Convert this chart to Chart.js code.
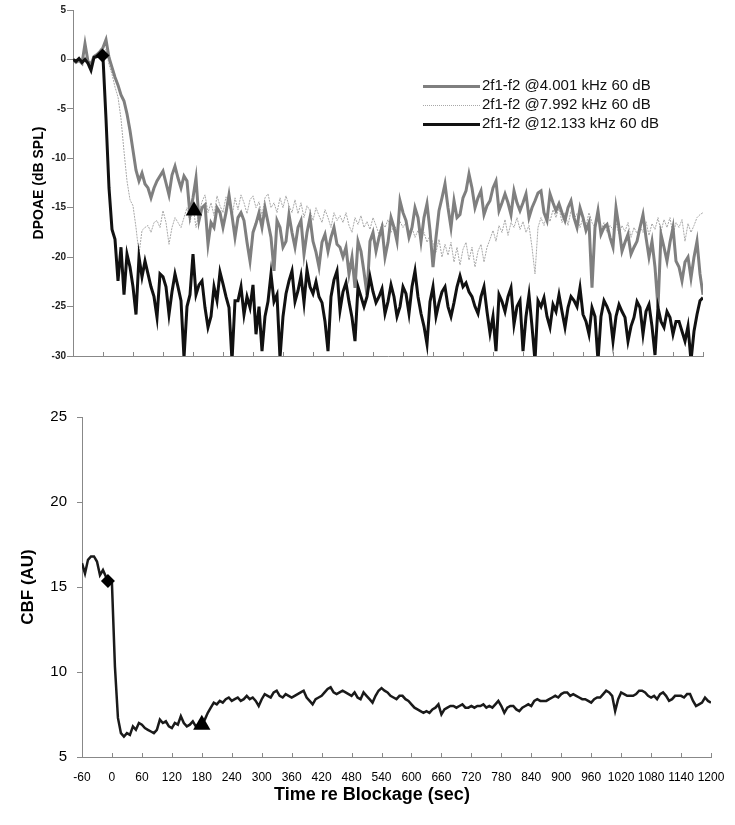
<!DOCTYPE html>
<html>
<head>
<meta charset="utf-8">
<script src="https://cdn.jsdelivr.net/npm/chart.js@4/dist/chart.umd.min.js"></script>
<style>
  body { margin: 0; background: #fff; width: 735px; height: 825px; position: relative; overflow: hidden; font-family: Arial, "Liberation Sans", sans-serif; }
  #dpChart { position: absolute; left: 0; top: 0; }
  #cbfChart { position: absolute; left: 0; top: 380px; }
  .legend { position: absolute; left: 423px; top: 75px; font-size: 15px; color: #111; }
  .legend div { height: 19px; line-height: 19px; white-space: nowrap; }
  .legend .sw { display: inline-block; width: 57px; vertical-align: middle; margin-right: 2px; }
</style>
</head>
<body>
<canvas id="dpChart" width="735" height="370"></canvas>
<canvas id="cbfChart" width="735" height="445"></canvas>
<div class="legend">
  <div><span class="sw" style="border-top:3px solid #7f7f7f"></span>2f1-f2 @4.001 kHz 60 dB</div>
  <div><span class="sw" style="border-top:1px dotted #a8a8a8"></span>2f1-f2 @7.992 kHz 60 dB</div>
  <div><span class="sw" style="border-top:3px solid #111"></span>2f1-f2 @12.133 kHz 60 dB</div>
</div>
<script>
// samples every 6 s from -60 s
const START = -60
const STEP = 6

// DPOAE 2f1-f2 @4.001 kHz (dB SPL)
const dp4k = [
    0.0, -0.3, -0.1, -0.4, 1.6, -0.2, -0.5, 0.3, 0.5, 0.8,
    1.2, 2.0, 0.2, -0.8, -1.8, -2.6, -3.6, -4.2, -5.5, -7.2,
    -9.2, -11.2, -12.3, -11.5, -12.6, -13.0, -14.0, -13.0, -12.3, -11.8,
    -11.3, -12.5, -13.7, -11.7, -10.8, -12.0, -13.0, -11.8, -12.3, -15.7,
    -14.0, -12.0, -16.3, -15.0, -14.7, -18.7, -16.5, -17.0, -15.0, -15.5,
    -17.0, -15.5, -13.7, -15.8, -18.0, -16.0, -15.5, -16.3, -18.5, -20.4,
    -17.5, -16.6, -15.5, -17.0, -15.0, -16.5, -18.0, -21.4, -16.3, -17.0,
    -19.0, -18.4, -15.7, -17.5, -19.0, -17.0, -16.3, -19.7, -17.5, -16.0,
    -18.4, -19.5, -21.0, -18.5, -17.7, -19.4, -18.0, -17.0, -18.7, -19.0,
    -20.0, -19.0, -21.7, -20.0, -23.1, -18.4, -19.4, -21.5, -23.8, -18.4,
    -17.5, -19.4, -18.0, -17.0, -20.0, -18.5, -16.0, -17.0, -18.4, -14.3,
    -15.5, -16.3, -18.0, -17.0, -15.0, -16.0, -18.4, -16.0, -14.6, -17.3,
    -21.0, -18.0, -15.3, -14.0, -12.6, -15.0, -17.0, -14.3, -16.0, -15.7,
    -14.0, -13.3, -11.6, -13.0, -15.0, -14.0, -13.3, -15.7, -14.8, -14.3,
    -13.0, -12.3, -15.3, -14.5, -13.6, -14.5, -15.7, -13.3, -14.5, -15.3,
    -14.5, -13.6, -16.0, -15.0, -14.3, -13.5, -13.3, -15.5, -16.3, -13.6,
    -14.5, -15.3, -14.6, -15.5, -16.3, -15.0, -14.3, -16.0, -17.0, -15.0,
    -16.0, -17.3, -16.5, -23.1, -17.0, -15.3, -17.7, -17.0, -16.7, -18.0,
    -19.0, -15.0, -17.0, -19.4, -18.5, -17.7, -19.7, -19.0, -18.4, -17.0,
    -15.7, -18.0, -20.0, -18.4, -21.0, -25.1, -17.7, -19.0, -20.4, -18.5,
    -17.0, -20.4, -21.0, -22.4, -20.5, -20.0, -22.1, -20.0, -18.4, -21.7,
    -23.8
]

// DPOAE 2f1-f2 @7.992 kHz (dB SPL)
const dp8k = [
    0.0, -0.2, 0.1, -0.2, 0.3, -0.1, -0.3, 0.2, 0.4, 0.5,
    0.8, 1.0, -0.5, -1.5, -2.8, -3.8, -6.0, -9.3, -12.3, -14.2,
    -14.8, -17.0, -19.7, -17.3, -17.0, -16.8, -17.5, -16.5, -16.3, -17.0,
    -15.3, -16.5, -18.7, -17.0, -16.0, -16.5, -17.0, -16.0, -15.0, -16.5,
    -14.8, -17.0, -15.5, -14.4, -13.7, -15.5, -14.5, -15.8, -13.8, -14.8,
    -15.5, -13.9, -14.6, -16.0, -14.0, -15.2, -13.7, -14.5, -15.6, -14.2,
    -13.8, -15.0, -14.4, -15.8, -14.0, -13.6, -15.0, -14.5, -15.5, -14.0,
    -15.0, -13.8, -14.8, -15.5, -14.2, -15.6, -14.5, -16.0, -14.8, -15.3,
    -16.3, -15.0, -15.8, -16.5, -15.2, -16.0, -17.0, -15.5, -16.3, -15.8,
    -16.5, -15.5, -16.8, -17.5, -16.0, -16.7, -15.8, -17.0, -16.4, -17.2,
    -16.0, -16.8, -17.7, -16.5, -17.0, -16.2, -17.5, -16.8, -17.2, -16.4,
    -17.0, -16.5, -17.7, -17.0, -18.0, -17.3, -18.2, -17.5, -18.5, -17.8,
    -18.6, -19.5, -18.2, -20.0, -18.7, -19.8, -18.5, -20.5, -19.0, -20.8,
    -19.2, -18.5, -20.3, -19.0, -21.0, -19.4, -18.7, -20.5, -19.0, -18.2,
    -17.3, -18.4, -16.8, -17.5, -16.2, -17.8, -16.5, -17.0, -16.0, -17.2,
    -16.4, -17.5, -16.8, -19.0, -21.7, -17.0, -16.0, -16.8, -15.5, -16.4,
    -15.2, -16.0, -15.0, -16.5, -15.5, -16.8, -15.3, -16.2, -15.6, -17.0,
    -16.0, -16.8, -15.5, -16.5, -17.0, -16.2, -17.3, -16.5, -17.5, -16.8,
    -17.2, -16.5, -17.7, -16.8, -17.4, -16.5, -18.0, -17.0, -17.6, -16.8,
    -17.5, -16.4, -17.8, -16.6, -17.2, -16.0, -17.4, -16.2, -17.0, -16.0,
    -17.8, -16.5, -17.0, -16.2, -18.4, -16.6, -17.5, -16.8, -16.0, -15.7,
    -15.5
]

// DPOAE 2f1-f2 @12.133 kHz (dB SPL)
const dp12k = [
    0.0, -0.2, 0.1, -0.3, 0.0, -0.4, -1.1, 0.2, 0.3, 0.4,
    0.2, -6.0, -13.0, -17.2, -18.2, -22.4, -19.0, -23.8, -19.7, -21.0,
    -23.0, -25.8, -20.0, -22.0, -20.4, -21.7, -23.0, -24.0, -26.1, -21.7,
    -22.0, -23.0, -25.8, -23.5, -21.7, -23.0, -24.4, -30.2, -25.0, -23.8,
    -19.7, -23.8, -22.8, -22.4, -25.1, -27.1, -26.0, -23.0, -24.4, -21.5,
    -22.7, -24.0, -25.1, -30.5, -24.4, -24.4, -23.0, -25.8, -24.0, -25.1,
    -22.8, -27.8, -25.0, -29.5, -26.0, -24.5, -21.7, -24.5, -23.8, -30.2,
    -26.0, -23.7, -22.4, -21.4, -24.5, -23.4, -21.9, -24.6, -21.3, -23.0,
    -23.7, -22.5, -24.0, -24.6, -26.5, -29.5, -24.0, -22.3, -21.4, -25.4,
    -23.5, -22.6, -24.5, -26.1, -28.5, -23.0, -24.0, -25.0, -24.0, -22.0,
    -23.5, -24.6, -24.0, -23.2, -25.7, -24.5, -22.8, -24.0, -26.0, -25.0,
    -23.0, -23.7, -25.7, -23.0, -21.4, -24.0, -25.7, -27.0, -28.8, -24.5,
    -23.0, -26.0, -24.6, -23.5, -23.0, -25.0, -26.0, -24.6, -23.0, -21.9,
    -23.0, -22.6, -23.5, -24.0, -25.0, -25.7, -24.0, -23.0, -25.5, -27.7,
    -26.0, -29.5, -23.8, -24.5, -25.5, -24.0, -23.1, -26.8, -25.0, -24.4,
    -29.5, -26.0, -23.8, -27.0, -30.5, -24.4, -25.0, -24.1, -26.0, -27.1,
    -24.8, -25.5, -23.8, -25.5, -27.1, -25.1, -24.0, -24.4, -25.0, -23.1,
    -25.8, -26.5, -27.8, -25.1, -26.0, -30.5, -26.0, -24.4, -25.0, -25.8,
    -28.5, -26.0, -24.8, -25.5, -26.1, -28.5, -27.0, -26.1, -24.5, -25.1,
    -27.8, -25.5, -24.8, -27.0, -29.9, -25.1, -26.5, -27.1, -25.5, -26.1,
    -27.8, -26.5, -26.5, -27.5, -28.5, -27.0, -30.5, -27.5, -25.8, -24.4,
    -24.1
]

// CBF (AU)
const cbf = [
    16.4, 15.8, 16.6, 16.8, 16.8, 16.5, 15.7, 16.0, 15.6, 15.4,
    15.2, 10.3, 7.3, 6.4, 6.2, 6.4, 6.3, 6.8, 6.6, 7.0,
    6.9, 6.7, 6.6, 6.5, 6.4, 6.6, 7.2, 7.0, 7.1, 6.8,
    6.7, 7.0, 6.9, 7.4, 7.0, 6.8, 6.9, 7.1, 6.8, 6.9,
    6.9, 7.2, 7.6, 7.9, 8.2, 8.1, 8.3, 8.2, 8.4, 8.5,
    8.3, 8.4, 8.5, 8.3, 8.4, 8.6, 8.4, 8.5, 8.3, 8.0,
    8.4, 8.7, 8.6, 8.5, 8.8, 8.9, 8.6, 8.5, 8.7, 8.6,
    8.5, 8.6, 8.7, 8.8, 8.9, 8.5, 8.3, 8.1, 8.4, 8.5,
    8.6, 8.8, 9.0, 9.1, 8.8, 8.7, 8.8, 8.9, 8.8, 8.7,
    8.6, 8.8, 8.5, 8.4, 8.8, 8.6, 8.4, 8.2, 8.6, 8.9,
    9.05, 8.9, 8.8, 8.6, 8.5, 8.4, 8.6, 8.6, 8.4, 8.3,
    8.1, 7.9, 7.8, 7.7, 7.6, 7.7, 7.6, 7.8, 7.9, 8.1,
    7.5, 7.8, 7.9, 8.0, 8.0, 7.9, 8.0, 8.1, 7.9, 7.9,
    8.0, 7.9, 8.0, 8.0, 8.1, 7.9, 8.0, 7.9, 8.1, 8.3,
    8.0, 7.6, 7.9, 8.0, 8.0, 7.8, 7.7, 7.9, 8.0, 8.1,
    8.0, 8.3, 8.4, 8.3, 8.3, 8.3, 8.4, 8.5, 8.6, 8.5,
    8.7, 8.8, 8.8, 8.6, 8.7, 8.6, 8.5, 8.4, 8.4, 8.3,
    8.2, 8.4, 8.5, 8.5, 8.7, 8.9, 8.8, 8.6, 7.7, 8.4,
    8.8, 8.7, 8.6, 8.6, 8.6, 8.7, 8.9, 8.9, 8.8, 8.6,
    8.5, 8.6, 8.4, 8.7, 8.8, 8.6, 8.3, 8.4, 8.6, 8.6,
    8.6, 8.5, 8.7, 8.7, 8.3, 8.0, 8.1, 8.2, 8.5, 8.3,
    8.2
]

// markers: blockage onset (diamond) and release (triangle), [time, value]
const dpOnset = [-1, 0.4]
const dpRelease = [182, -15.3]
const cbfOnset = [-8, 15.35]
const cbfRelease = [180, 6.9]

const toPoints = arr => arr.map((v, i) => ({ x: START + i * STEP, y: v }))

Chart.defaults.font.family = 'Arial, "Liberation Sans", sans-serif'
Chart.defaults.color = '#000'

// x tick marks pointing into the plot
const innerTicks = {
    id: 'innerTicks',
    afterDraw(chart) {
        const s = chart.scales.x
        const ctx = chart.ctx
        ctx.save()
        ctx.strokeStyle = '#888'
        ctx.lineWidth = 1
        s.ticks.forEach(t => {
            const px = Math.round(s.getPixelForValue(t.value)) + 0.5
            ctx.beginPath()
            ctx.moveTo(px, s.top)
            ctx.lineTo(px, s.top - 4)
            ctx.stroke()
        })
        ctx.restore()
    }
}

const xTitle = {
    id: 'xTitle',
    afterDraw(chart, args, opts) {
        if (!opts.text) return
        const ctx = chart.ctx
        ctx.save()
        ctx.font = 'bold 18px Arial, "Liberation Sans", sans-serif'
        ctx.fillStyle = '#000'
        ctx.textAlign = 'center'
        ctx.textBaseline = 'middle'
        ctx.fillText(opts.text, opts.x, opts.y)
        ctx.restore()
    }
}

const marker = (pt, style, r) => ({
    data: [{ x: pt[0], y: pt[1] }],
    showLine: false,
    pointStyle: style,
    pointRadius: r,
    pointBackgroundColor: '#000',
    pointBorderColor: '#000',
    pointBorderWidth: 0
})

const plain = v => String(v)

new Chart(document.getElementById('dpChart'), {
    type: 'line',
    data: {
        datasets: [
            marker(dpOnset, 'rectRot', 7),
            marker(dpRelease, 'triangle', 9.5),
            {
                label: '2f1-f2 @12.133 kHz 60 dB',
                data: toPoints(dp12k),
                borderColor: '#111',
                borderWidth: 3,
                pointRadius: 0
            },
            {
                label: '2f1-f2 @4.001 kHz 60 dB',
                data: toPoints(dp4k),
                borderColor: '#7f7f7f',
                borderWidth: 3,
                pointRadius: 0
            },
            {
                label: '2f1-f2 @7.992 kHz 60 dB',
                data: toPoints(dp8k),
                borderColor: '#a8a8a8',
                borderWidth: 1,
                borderDash: [2, 1],
                pointRadius: 0
            }
        ]
    },
    options: {
        responsive: false,
        animation: false,
        devicePixelRatio: 1,
        events: [],
        layout: { padding: { top: 10, right: 32, left: 0, bottom: 0 } },
        plugins: { legend: { display: false }, tooltip: { enabled: false } },
        scales: {
            x: {
                type: 'linear', min: -60, max: 1200,
                afterFit: s => { s.height = 14 },
                ticks: { display: false, stepSize: 60 },
                grid: { display: false },
                border: { color: '#888' }
            },
            y: {
                min: -30, max: 5,
                afterFit: s => { s.width = 73 },
                ticks: { stepSize: 5, padding: 1, color: '#222', font: { size: 10, weight: 'bold' }, callback: plain },
                grid: { drawOnChartArea: false, tickLength: 6, color: '#888' },
                border: { color: '#888' },
                title: { display: true, text: 'DPOAE (dB SPL)', font: { size: 14, weight: 'bold' }, padding: { top: 31, bottom: 0 } }
            }
        }
    },
    plugins: [innerTicks]
})

new Chart(document.getElementById('cbfChart'), {
    type: 'line',
    data: {
        datasets: [
            marker(cbfOnset, 'rectRot', 7),
            marker(cbfRelease, 'triangle', 10),
            {
                label: 'CBF',
                data: toPoints(cbf),
                borderColor: '#1a1a1a',
                borderWidth: 2.5,
                pointRadius: 0
            }
        ]
    },
    options: {
        responsive: false,
        animation: false,
        devicePixelRatio: 1,
        events: [],
        layout: { padding: { top: 37, right: 24, left: 0, bottom: 0 } },
        plugins: {
            legend: { display: false },
            tooltip: { enabled: false },
            xTitle: { text: 'Time re Blockage (sec)', x: 372, y: 415 }
        },
        scales: {
            x: {
                type: 'linear', min: -60, max: 1200,
                afterFit: s => { s.height = 68 },
                ticks: {
                    stepSize: 60, autoSkip: false, maxRotation: 0, padding: 5,
                    font: { size: 12 }, callback: plain
                },
                grid: { display: false },
                border: { color: '#888' }
            },
            y: {
                min: 5, max: 25,
                afterFit: s => { s.width = 82 },
                ticks: { stepSize: 5, padding: 10, font: { size: 15 }, callback: plain },
                grid: { drawOnChartArea: false, tickLength: 5, color: '#888' },
                border: { color: '#888' },
                title: { display: true, text: 'CBF (AU)', font: { size: 17, weight: 'bold' }, padding: { top: 18, bottom: 0 } }
            }
        }
    },
    plugins: [innerTicks, xTitle]
})
</script>
</body>
</html>
